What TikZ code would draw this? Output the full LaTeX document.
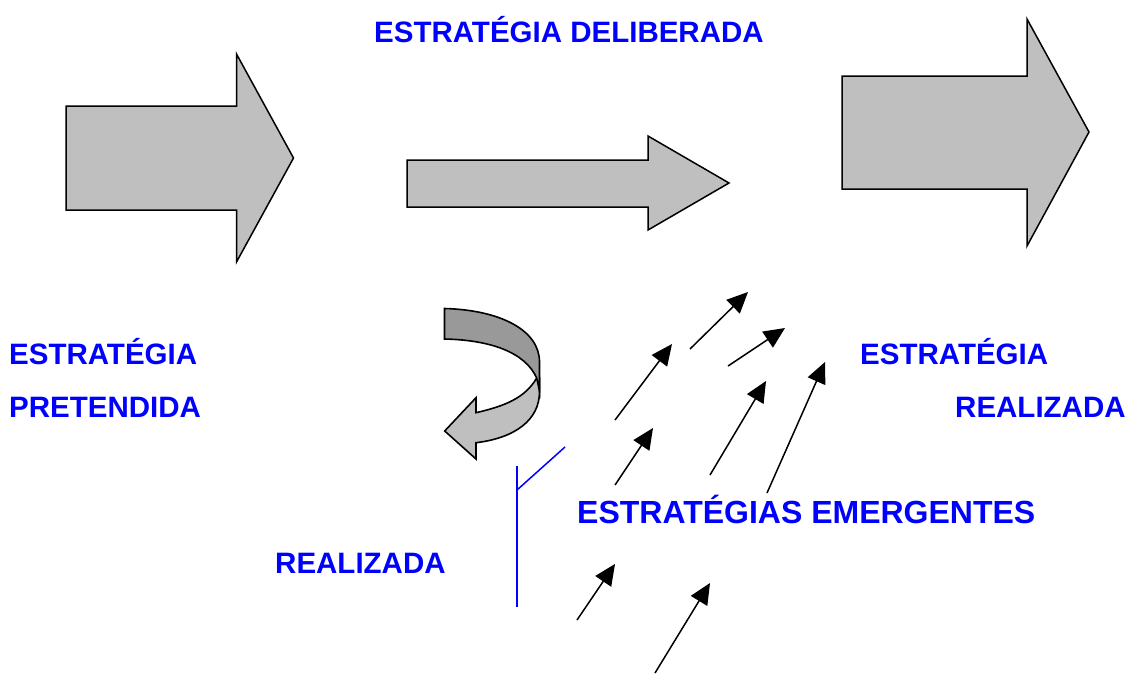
\documentclass[tikz,border=0pt]{standalone}
\usepackage{fontspec}
\setmainfont{Liberation Sans}
\usetikzlibrary{arrows.meta}
\definecolor{bluetxt}{RGB}{0,0,255}
\tikzset{
  block/.style={draw=black,fill=black!25,line width=1.5pt,line join=miter},
  curlA/.style={draw=black,fill=black!40,line width=1.6pt},
  curlB/.style={draw=black,fill=black!25,line width=1.6pt},
  label/.style={text=bluetxt,font=\fontsize{29.5}{34}\selectfont\bfseries,anchor=base west,inner sep=0pt},
  biglabel/.style={text=bluetxt,font=\fontsize{32}{38}\selectfont\bfseries,anchor=base west,inner sep=0pt},
  conn/.style={draw=black,line width=1.5pt,-{Triangle[length=21pt,width=19pt,fill=black]}},
  blueline/.style={draw=bluetxt,line width=1.5pt}
}
\begin{document}
\begin{tikzpicture}[x=1pt,y=-1pt]
\useasboundingbox (0,0) rectangle (1126,673);
\path[block] (66,106)--(236.5,106)--(236.5,54)--(293.5,158)--(236.5,262)--(236.5,210)--(66,210)--cycle;
\path[block] (407,160)--(648,160)--(648,136)--(729,183)--(648,230)--(648,207)--(407,207)--cycle;
\path[block] (842,76)--(1027,76)--(1027,19)--(1089,132)--(1027,246)--(1027,189)--(842,189)--cycle;
% curled arrow
\path[curlB] (536.7,378) .. controls (525,398) and (505,406) .. (476,412.7) -- (476,397.7) -- (444.7,431) -- (476,459) -- (476,442.7) .. controls (515,438) and (539.5,420) .. (539.5,391.7) -- (539.5,378) -- cycle;
\path[curlA] (444.5,308.5) .. controls (500,310) and (539.5,330) .. (539.5,362) -- (539.5,391) -- (536.7,378) .. controls (525,352) and (490,340) .. (444.5,339) -- cycle;
% blue lines
\coordinate (b1) at (517,466); \coordinate (b2) at (517,607);
\coordinate (b3) at (517,490); \coordinate (b4) at (565,447);
\draw[blueline] (b1)--(b2);
\draw[blueline] (b3)--(b4);
% small arrows
\coordinate (a1s) at (690,349); \coordinate (a1e) at (748,292);
\coordinate (a2s) at (728,366); \coordinate (a2e) at (785,328);
\coordinate (a3s) at (615,420); \coordinate (a3e) at (672,344);
\coordinate (a4s) at (615,485); \coordinate (a4e) at (653,428);
\coordinate (a5s) at (710,475); \coordinate (a5e) at (766,381);
\coordinate (a6s) at (767,493); \coordinate (a6e) at (825,362);
\coordinate (a7s) at (577,620); \coordinate (a7e) at (615,564);
\coordinate (a8s) at (655,673); \coordinate (a8e) at (710,583);
\draw[conn] (a1s)--(a1e);
\draw[conn] (a2s)--(a2e);
\draw[conn] (a3s)--(a3e);
\draw[conn] (a4s)--(a4e);
\draw[conn] (a5s)--(a5e);
\draw[conn] (a6s)--(a6e);
\draw[conn] (a7s)--(a7e);
\draw[conn] (a8s)--(a8e);
% labels
\node[label] (t1) at (374,42) {ESTRATÉGIA DELIBERADA};
\node[label] (t2) at (9,364) {ESTRATÉGIA};
\node[label] (t3) at (9,417) {PRETENDIDA};
\node[label] (t4) at (860,364) {ESTRATÉGIA};
\node[label] (t5) at (955,417) {REALIZADA};
\node[biglabel] (t6) at (577,523) {ESTRATÉGIAS EMERGENTES};
\node[label] (t7) at (275,573) {REALIZADA};
\end{tikzpicture}
\end{document}
